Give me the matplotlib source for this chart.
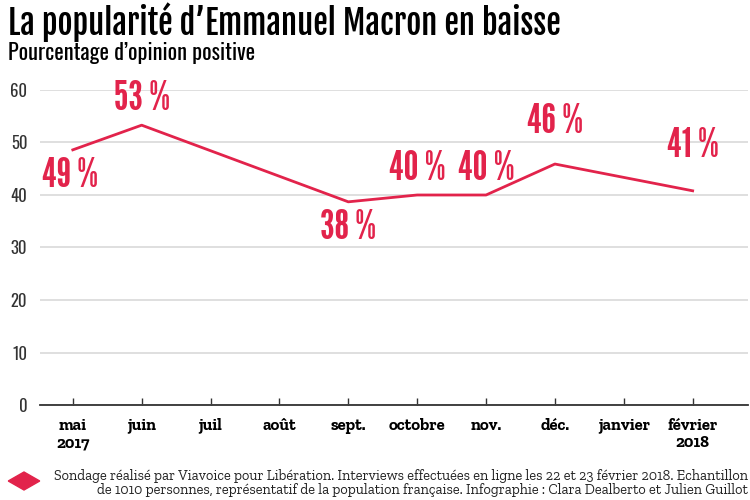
import matplotlib.pyplot as plt
from matplotlib.patches import Polygon

months = ['mai', 'juin', 'juil', 'août', 'sept.', 'octobre', 'nov.', 'déc.', 'janvier', 'février']
years = {0: '2017', 9: '2018'}
x_pts = [0, 1, 4, 5, 6, 7, 9]
vals = [48.6, 53.3, 38.7, 40, 40, 45.9, 40.8]
labels = ['49 %', '53 %', '38 %', '40 %', '40 %', '46 %', '41 %']
# label offsets in points (dx, dy)
offsets = [(-2, -19), (0, 19), (0, -19), (0, 19), (0, 19), (0, 30), (0, 32)]

red = '#e2234b'
title_font = ['Fjalla One', 'DejaVu Sans']
sub_font = ['Oswald', 'DejaVu Sans']
num_font = ['League Gothic', 'DejaVu Sans']
slab = ['Zilla Slab', 'DejaVu Serif']

fig = plt.figure(figsize=(7.5, 5), dpi=100)
ax = fig.add_axes([0.053, 0.19, 0.944, 0.63])

ax.plot(x_pts, vals, color=red, lw=2)
for x, v, lab, off in zip(x_pts, vals, labels, offsets):
    ax.annotate(lab, (x, v), xytext=off, textcoords='offset points',
                ha='center', va='center', color=red, fontsize=30,
                family=num_font, annotation_clip=False)

ax.set_xlim(-0.48, 9.8)
ax.set_ylim(0, 60)
ax.set_yticks([0, 10, 20, 30, 40, 50, 60])
ax.set_yticklabels([str(t) for t in [0, 10, 20, 30, 40, 50, 60]], family=sub_font,
                   fontweight='light')
ax.yaxis.grid(True, color='#d9d9d9', lw=1.2)
ax.set_axisbelow(True)
for s in ['top', 'right', 'left']:
    ax.spines[s].set_visible(False)
ax.spines['bottom'].set_color('#333333')
ax.spines['bottom'].set_linewidth(1.3)
ax.tick_params(axis='y', length=0, labelsize=12, labelcolor='#333333', pad=9)
ax.tick_params(axis='x', direction='in', length=5, width=1, color='#333333', pad=9)
ax.set_xticks(range(len(months)))
ax.set_xticklabels(months, fontsize=12, fontweight='bold', family=slab)
for i, y in years.items():
    ax.text(i, -0.122, y, transform=ax.get_xaxis_transform(), ha='center',
            va='center', fontsize=12, fontweight='bold', family=slab)

fig.text(0.01, 0.955, 'La popularité d’Emmanuel Macron en baisse', fontsize=23.5,
         family=title_font, va='center')
fig.text(0.01, 0.895, 'Pourcentage d’opinion positive', fontsize=16,
         family=sub_font, fontweight='light', va='center')

fig.text(0.997, 0.034, 'Sondage réalisé par Viavoice pour Libération. Interviews effectuées en ligne les 22 et 23 février 2018. Echantillon\n'
         'de 1010 personnes, représentatif de la population française. Infographie : Clara Dealberto et Julien Guillot',
         ha='right', va='center', fontsize=10.4, family=slab, color='#222222',
         multialignment='right', linespacing=1.05)

diamond = Polygon([[0.011, 0.038], [0.032, 0.056], [0.053, 0.038], [0.032, 0.02]],
                  closed=True, transform=fig.transFigure, color=red)
fig.patches.append(diamond)

fig.savefig('out.png', dpi=100)
